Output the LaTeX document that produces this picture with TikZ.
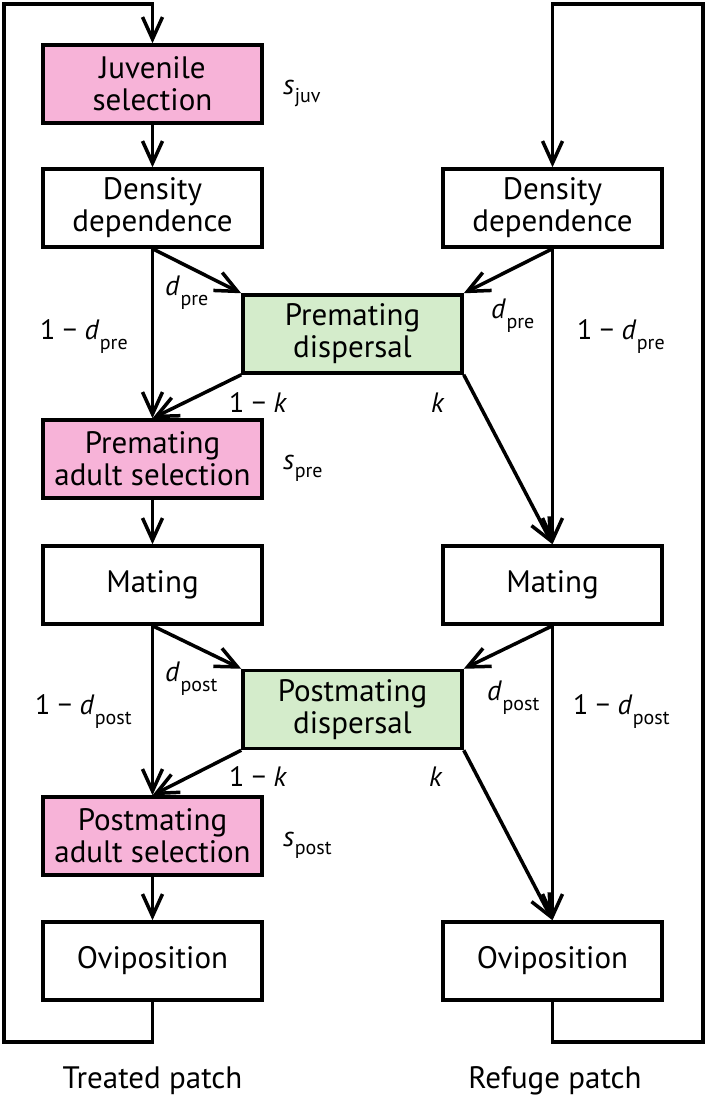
\documentclass[tikz,border=0pt]{standalone}
\usepackage{fontspec}
\setmainfont{PT Sans}
\usetikzlibrary{arrows.meta}
\definecolor{selpink}{RGB}{247,179,216}
\definecolor{dispgreen}{RGB}{212,236,203}
\newcommand{\vsub}[3][10pt]{\textit{#2}\kern0.5pt\raisebox{-#1}{\fontsize{20}{20}\selectfont #3}}
\begin{document}
\begin{tikzpicture}[x=1pt,y=-1pt,
  box/.style={draw,line width=3.5pt,minimum width=219pt,minimum height=78pt,inner sep=0pt,
    align=center,font=\fontsize{31}{32}\selectfont},
  pinkbox/.style={box,fill=selpink},
  greenbox/.style={box,fill=dispgreen},
  conn/.style={line width=3.5pt},
  arr/.style={conn,-{Straight Barb[length=22pt,width=20pt]}},
  lab/.style={inner sep=0pt,anchor=base west,font=\fontsize{28}{28}\selectfont},
  foot/.style={inner sep=0pt,anchor=base,font=\fontsize{31}{32}\selectfont}]
\useasboundingbox (0,0) rectangle (709,1096);
% boxes
\node[pinkbox] (juv) at (152.5,84) {Juvenile\\selection};
\node[box] (dl) at (152.5,208) {Density\\dependence};
\node[box] (dr) at (552.5,208) {Density\\dependence};
\node[greenbox] (pd) at (352.5,334) {Premating\\dispersal};
\node[pinkbox] (pas) at (152.5,459) {Premating\\adult selection};
\node[box] (ml) at (152.5,585) {Mating};
\node[box] (mr) at (552.5,585) {Mating};
\node[greenbox] (qd) at (352.5,709.5) {Postmating\\dispersal};
\node[pinkbox] (qas) at (152.5,836) {Postmating\\adult selection};
\node[box] (ol) at (152.5,961) {Oviposition};
\node[box] (or) at (552.5,961) {Oviposition};
% loop corners
\coordinate (lbl) at (4,1042);
\coordinate (ltl) at (152.5,4);
\coordinate (rbr) at (703,1042);
\coordinate (rtr) at (552.5,4);
% loops
\draw[arr,line join=miter] (ol.south) |- (lbl) |- (ltl) -- (juv.north);
\draw[arr,line join=miter] (or.south) |- (rbr) |- (rtr) -- (dr.north);
% connectors
\draw[arr] (juv) -- (dl);
\draw[arr] (dl.south) -- (pas.north);
\draw[arr] (dl.south) -- (pd.north west);
\draw[arr] (dr.south) -- (pd.north east);
\draw[arr] (dr.south) -- (mr.north);
\draw[arr] (pd.south west) -- (pas.north);
\draw[arr] (pd.south east) -- (mr.north);
\draw[arr] (pas) -- (ml);
\draw[arr] (ml.south) -- (qas.north);
\draw[arr] (ml.south) -- (qd.north west);
\draw[arr] (mr.south) -- (qd.north east);
\draw[arr] (mr.south) -- (or.north);
\draw[arr] (qd.south west) -- (qas.north);
\draw[arr] (qd.south east) -- (or.north);
\draw[arr] (qas) -- (ol);
% labels
\node[lab] (sjuv) at (283,94) {\vsub[8pt]{s}{juv}};
\node[lab] (spre) at (283,469) {\vsub[8pt]{s}{pre}};
\node[lab] (spost) at (283,846) {\vsub[8pt]{s}{post}};
\node[lab] (dpl) at (165,295) {\vsub{d}{pre}};
\node[lab] (dpr) at (491,318) {\vsub{d}{pre}};
\node[lab] (odpl) at (40,339) {1 − \vsub{d}{pre}};
\node[lab] (odpr) at (577,339) {1 − \vsub{d}{pre}};
\node[lab] (okp) at (229,412) {1 − \textit{k}};
\node[lab] (kp) at (431,412) {\textit{k}};
\node[lab] (dql) at (165,681) {\vsub{d}{post}};
\node[lab] (dqr) at (487,700) {\vsub{d}{post}};
\node[lab] (odql) at (35,714) {1 − \vsub{d}{post}};
\node[lab] (odqr) at (573,714) {1 − \vsub{d}{post}};
\node[lab] (okq) at (229,786) {1 − \textit{k}};
\node[lab] (kq) at (429,786) {\textit{k}};
\node[foot] (tp) at (152.5,1088) {Treated patch};
\node[foot] (rp) at (555,1088) {Refuge patch};
\end{tikzpicture}
\end{document}
